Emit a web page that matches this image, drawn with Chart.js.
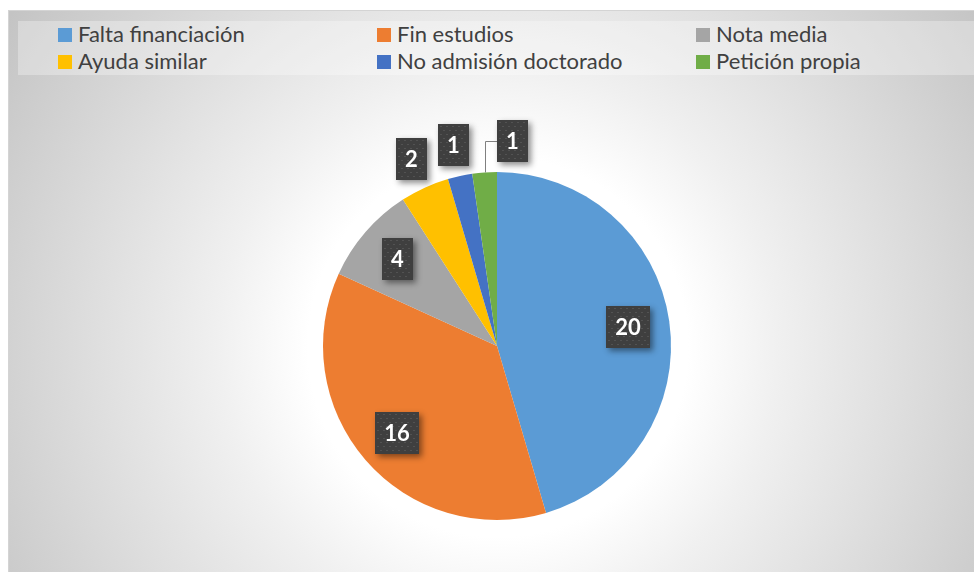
<!DOCTYPE html>
<html lang="es">
<head>
<meta charset="utf-8">
<title>Motivos de baja</title>
<script src="https://cdn.jsdelivr.net/npm/chart.js@4.4.0/dist/chart.umd.min.js"></script>
<style>
    html, body { margin: 0; padding: 0; background: #ffffff; }
    #wrap { position: relative; width: 974px; height: 572px; overflow: hidden; }
    #frame {
        position: absolute; left: 8px; top: 10px; width: 980px; height: 580px;
        border: 1px solid #d4d4d4; box-sizing: border-box;
        background: radial-gradient(circle at 489px 336px, #ffffff 0px, #ffffff 190px, #f0f0f0 280px, #d2d2d2 490px, #c4c4c4 590px);
    }
    #legendBox {
        position: absolute; left: 18px; top: 21px; width: 970px; height: 54px;
        background: rgba(255, 255, 255, 0.3);
    }
    #legend {
        position: absolute; left: 58px; top: 20px;
        display: grid; grid-template-columns: repeat(3, 319px);
        font-family: Lato, "Noto Sans", sans-serif; font-size: 22px; color: #404040;
        line-height: 27px;
    }
    #legend .item { white-space: nowrap; }
    #legend .sq { display: inline-block; width: 14px; height: 14px; margin-right: 6px; vertical-align: 0px; }
    #chartBox { position: absolute; left: 0; top: 0; width: 974px; height: 572px; }
</style>
</head>
<body>
<div id="wrap">
    <div id="frame"></div>
    <div id="legendBox"></div>
    <div id="legend"></div>
    <div id="chartBox"><canvas id="pieChart"></canvas></div>
</div>
<script>
// Datos del gráfico
const categories = ['Falta financiación', 'Fin estudios', 'Nota media', 'Ayuda similar', 'No admisión doctorado', 'Petición propia'];
const values = [20, 16, 4, 2, 1, 1];
const colors = ['#5B9BD5', '#ED7D31', '#A5A5A5', '#FFC000', '#4472C4', '#70AD47'];

// Leyenda en HTML (3 columnas)
const legend = document.getElementById('legend');
categories.forEach((cat, i) => {
    const item = document.createElement('div');
    item.className = 'item';
    item.innerHTML = `<span class="sq" style="background:${colors[i]}"></span>${cat}`;
    legend.appendChild(item);
});

// Etiquetas con caja oscura
function drawBox(ctx, cx, cy, text) {
    ctx.font = 'bold 22px Lato, "Noto Sans", sans-serif';
    const w = Math.round(ctx.measureText(text).width + 18);
    const h = 42;
    const left = Math.round(cx - w / 2), top = Math.round(cy - h / 2);
    ctx.save();
    ctx.shadowColor = 'rgba(0, 0, 0, 0.45)';
    ctx.shadowBlur = 6;
    ctx.shadowOffsetX = 3;
    ctx.shadowOffsetY = 3;
    ctx.fillStyle = '#3f3f3f';
    ctx.fillRect(left, top, w, h);
    ctx.restore();
    // textura de puntos
    ctx.fillStyle = 'rgba(255, 255, 255, 0.10)';
    for (let yy = top + 2, row = 0; yy < top + h - 1; yy += 4, row++) {
        for (let xx = left + 2 + (row % 2) * 3; xx < left + w - 2; xx += 6) {
            ctx.fillRect(xx, yy, 2, 1);
        }
    }
    ctx.fillStyle = '#ffffff';
    ctx.textAlign = 'center';
    ctx.textBaseline = 'middle';
    ctx.fillText(text, left + w / 2, top + h / 2 + 1);
    return { left, top, w, h };
}

const labelPlugin = {
    id: 'boxLabels',
    afterDatasetsDraw(chart) {
        const ctx = chart.ctx;
        const meta = chart.getDatasetMeta(0);
        let prevOut = null;
        meta.data.forEach((arc, i) => {
            const p = arc.getProps(['x', 'y', 'startAngle', 'endAngle', 'outerRadius'], true);
            const mid = (p.startAngle + p.endAngle) / 2;
            const span = p.endAngle - p.startAngle;
            const text = String(values[i]);
            if (span > 0.45) {
                const r = p.outerRadius * 0.76;
                drawBox(ctx, p.x + r * Math.cos(mid), p.y + r * Math.sin(mid), text);
                return;
            }
            const r = p.outerRadius * 1.18;
            let cx = p.x + r * Math.cos(mid);
            const cy = p.y + r * Math.sin(mid);
            ctx.font = 'bold 22px Lato, "Noto Sans", sans-serif';
            const w = ctx.measureText(text).width + 18;
            let moved = false;
            if (prevOut && cx - w / 2 < prevOut.left + prevOut.w + 4) {
                cx = Math.max(prevOut.left + prevOut.w + 4, p.x) + w / 2;
                moved = true;
            }
            if (moved) {
                const ex = p.x + p.outerRadius * Math.cos(mid);
                const ey = p.y + p.outerRadius * Math.sin(mid);
                ctx.save();
                ctx.strokeStyle = '#808080';
                ctx.lineWidth = 1;
                ctx.beginPath();
                ctx.moveTo(Math.round(ex) + 0.5, ey);
                ctx.lineTo(Math.round(ex) + 0.5, Math.round(cy) + 0.5);
                ctx.lineTo(Math.round(cx - w / 2), Math.round(cy) + 0.5);
                ctx.stroke();
                ctx.restore();
            }
            prevOut = drawBox(ctx, cx, cy, text);
        });
    }
};

const ctx = document.getElementById('pieChart').getContext('2d');
const pieChart = new Chart(ctx, {
    type: 'pie',
    data: {
        labels: categories,
        datasets: [{
            data: values,
            backgroundColor: colors,
            borderWidth: 0
        }]
    },
    options: {
        responsive: true,
        maintainAspectRatio: false,
        animation: false,
        layout: { padding: { left: 20, right: 0, top: 172, bottom: 52 } },
        plugins: {
            legend: { display: false },
            tooltip: { enabled: false }
        }
    },
    plugins: [labelPlugin]
});
</script>
</body>
</html>
